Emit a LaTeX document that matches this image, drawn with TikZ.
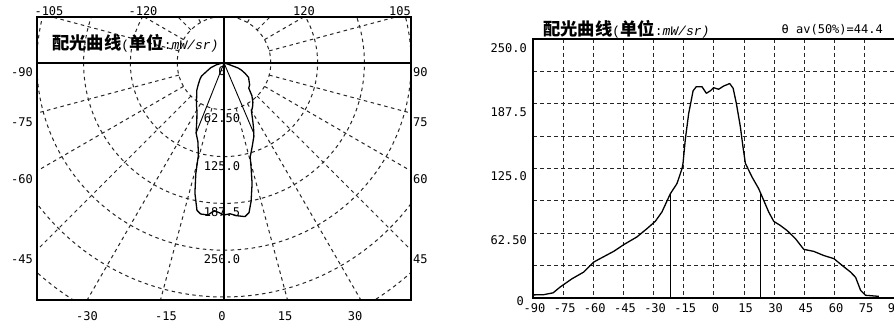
\documentclass[tikz,border=0pt]{standalone}
\usepackage{fontspec}
\setmainfont{DejaVu Sans Mono}
\newfontfamily\mono{DejaVu Sans Mono}
\newfontfamily\monot{Liberation Mono}
\newfontfamily\cjk{Noto Sans CJK SC}
\def\lumdata{-90/3, -84.7/3.2, -80/5, -76.5/10.6, -70.6/18.6, -64.8/25, -59.8/34.7, -55.7/39, -49.9/45, -44.9/51.5, -38.3/59, -33.3/67, -29.2/74, -25.9/83, -21.7/100.7, -18.4/110.5, -15.9/125, -15.4/130, -14.3/152.5, -12.6/178, -10.4/200, -8.8/204, -6/204, -3.8/197.6, -1.8/200, -0.2/203, 2.3/201.5, 4.8/204.6, 7.8/207, 9.5/202.5, 11.1/188, 13.1/165.4, 14.4/146, 15.6/130, 16.1/128, 18.9/116.8, 22.2/105.6, 24.7/94.3, 27.2/83, 29.7/74, 33/70, 36.3/65.2, 40.5/57.3, 44.6/47, 49.6/45, 54.6/41, 59.6/38, 63.7/31.5, 67.9/25, 70.4/20, 72.9/7.4, 75.4/2.6, 82/1.6}
\tikzset{
  gridl/.style={line width=1pt, dash pattern=on 3.5pt off 3.5pt, black!85},
  frame/.style={line width=1.4pt, black},
  axisl/.style={line width=1.1pt, black},
  curve/.style={line width=1.3pt, line join=round, black},
  halfl/.style={line width=0.9pt, black},
  lbl/.style={font=\mono\fontsize{12}{12}\selectfont, inner sep=0pt, text=black},
  ttl/.style={inner sep=0pt, text=black},
}
\newcommand\ttltext{\cjk\bfseries\fontsize{17.3}{17.3}\selectfont 配光曲线{\monot\mdseries\fontsize{13}{13}\selectfont(}单位{\monot\mdseries\fontsize{13}{13}\selectfont:\itshape mW/sr)}}
\begin{document}
\begin{tikzpicture}[x=1pt,y=-1pt]
\useasboundingbox (0,0) rectangle (894,324);
\fill[white] (0,0) rectangle (894,324);

% ---------------- left polar plot ----------------
\begin{scope}
  \clip (37,17) rectangle (411,300);
  \foreach \k in {1,...,7}
    \draw[gridl] (224,63) circle[radius=\k*46.8pt];
  \foreach \a in {15,30,...,345}
    \draw[gridl] ({224+46.8*sin(\a)},{63+46.8*cos(\a)}) -- ({224+420*sin(\a)},{63+420*cos(\a)});
\end{scope}
\draw[frame] (37,17) rectangle (411,300);
\draw[axisl] (37,63) -- (411,63);
\draw[axisl] (224,17) -- (224,300);

\begin{scope}[shift={(224,63)}, x=0.749pt, y=-0.749pt]
  \draw[curve] (0,0) \foreach \ang/\val in \lumdata { -- ({\val*sin(\ang)},{\val*cos(\ang)}) } -- cycle;
  \coordinate (pc) at (0,0);
  \coordinate (pl) at ({100.7*sin(-21.7)},{100.7*cos(-21.7)});
  \coordinate (pr) at ({102*sin(23)},{102*cos(23)});
  \draw[halfl] (pc) -- (pl);
  \draw[halfl] (pc) -- (pr);
\end{scope}

% polar labels
\node[lbl] (r0) at (222,71) {0};
\node[lbl] (r1) at (222,118) {62.50};
\node[lbl] (r2) at (222,166) {125.0};
\node[lbl] (r3) at (222,212.5) {187.5};
\node[lbl] (r4) at (222,259.5) {250.0};

\node[lbl,anchor=east] (lm90) at (33,72) {-90};
\node[lbl,anchor=east] (lm75) at (33,122) {-75};
\node[lbl,anchor=east] (lm60) at (33,179.5) {-60};
\node[lbl,anchor=east] (lm45) at (33,259.5) {-45};
\node[lbl,anchor=west] (lp90) at (413,72) {90};
\node[lbl,anchor=west] (lp75) at (413,122) {75};
\node[lbl,anchor=west] (lp60) at (413,179.5) {60};
\node[lbl,anchor=west] (lp45) at (413,259.5) {45};
\node[lbl] (bm30) at (87,316) {-30};
\node[lbl] (bm15) at (166,316) {-15};
\node[lbl] (b0) at (222,316) {0};
\node[lbl] (bp15) at (285,316) {15};
\node[lbl] (bp30) at (355,316) {30};
\node[lbl] (tm105) at (49,11) {-105};
\node[lbl] (tm120) at (143,11) {-120};
\node[lbl] (tp120) at (304,11) {120};
\node[lbl] (tp105) at (400,11) {105};

\node[ttl,anchor=west] (ltitle) at (52,43) {\ttltext};

% ---------------- right cartesian plot ----------------
\foreach \i in {1,...,11}
  \draw[gridl] ({533+30.15*\i},39) -- ({533+30.15*\i},298);
\foreach \j in {1,...,7}
  \draw[gridl] (533,{298-32.375*\j}) -- (895,{298-32.375*\j});
\draw[frame] (533,39) rectangle (895.5,298);

\begin{scope}[shift={(714,298)}, x=2.011pt, y=1.036pt]
  \draw[curve] (-90,3) \foreach \ang/\val in \lumdata { -- (\ang,\val) };
  \coordinate (ql0) at (-21.7,0);
  \coordinate (ql1) at (-21.7,100.7);
  \coordinate (qr0) at (23,0);
  \coordinate (qr1) at (23,102);
  \draw[halfl] (ql0) -- (ql1);
  \draw[halfl] (qr0) -- (qr1);
\end{scope}

\node[lbl,anchor=east] (y250) at (527,48) {250.0};
\node[lbl,anchor=east] (y187) at (527,112) {187.5};
\node[lbl,anchor=east] (y125) at (527,176) {125.0};
\node[lbl,anchor=east] (y62) at (527,240) {62.50};
\node[lbl,anchor=east] (y0) at (524,301.5) {0};

\foreach \v [count=\i from 0] in {-90,-75,-60,-45,-30,-15,0,15,30,45,60,75}
  \node[lbl] (x\i) at ({534.5+30.15*\i},308) {\v};
\begin{scope}
  \clip (0,0) rectangle (894,324);
  \node[lbl] (x12) at (895,308) {90};
\end{scope}

\node[ttl,anchor=west] (rtitle) at (543,29) {\ttltext};
\node[lbl,anchor=east] (theta) at (883,30) {θ av(50\%)=44.4};
\end{tikzpicture}
\end{document}
